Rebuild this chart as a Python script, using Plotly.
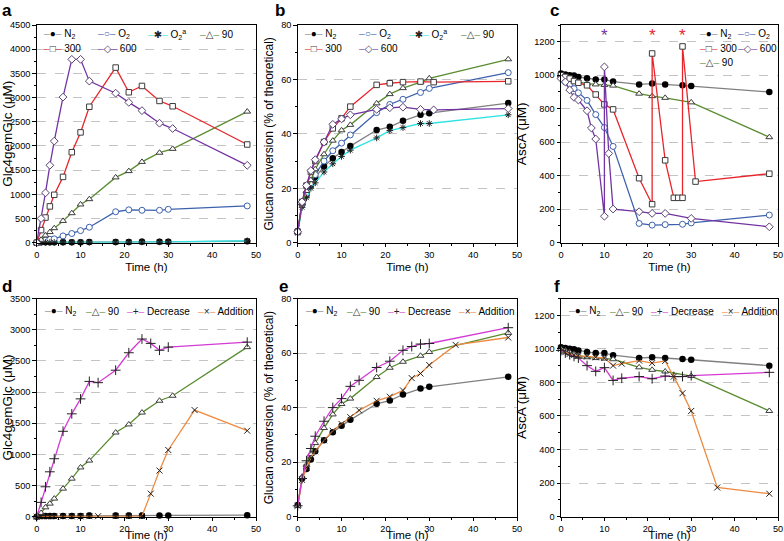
import plotly.graph_objects as go

W, H = 784, 541

# ---------------- data ----------------
# Panel a : Glc4gemGlc (uM)
a_t_N2 = [0, 1, 2, 3, 4, 6, 8, 10, 12, 18, 21, 24, 28, 30, 48]
a_N2 = [5, 10, 10, 10, 10, 10, 10, 10, 12, 15, 15, 20, 18, 18, 30]
a_N2_err = [30, 40, 40, 40, 40, 40, 40, 40, 45, 45, 45, 50, 45, 45, 35]
a_t_O2a = [0, 1, 2, 3, 4, 6, 8, 10, 12, 18, 21, 24, 28, 30, 48]
a_O2a = [0, 5, 5, 5, 5, 8, 8, 10, 10, 12, 14, 15, 16, 17, 40]
a_t_O2 = [0, 1, 2, 3, 4, 6, 8, 10, 12, 18, 21, 24, 28, 30, 48]
a_O2 = [0, 30, 50, 70, 80, 140, 190, 250, 320, 640, 680, 670, 670, 690, 760]
a_t_90 = [0, 1, 2, 3, 4, 6, 8, 10, 12, 18, 21, 24, 28, 31, 48]
a_90 = [0, 60, 150, 220, 300, 450, 610, 790, 900, 1350, 1480, 1670, 1860, 1940, 2710]
a_t_300 = [0, 1, 2, 3, 4, 6, 8, 10, 12, 18, 21, 24, 28, 31, 48]
a_300 = [0, 260, 520, 750, 990, 1360, 1870, 2280, 2810, 3620, 3110, 3240, 2930, 2820, 2030]
a_t_600 = [0, 1, 2, 3, 4, 6, 8, 10, 12, 18, 21, 24, 28, 31, 48]
a_600 = [0, 500, 1030, 1600, 2100, 3010, 3790, 3790, 3340, 3090, 2900, 2730, 2470, 2360, 1600]

# Panel b : Glucan conversion (% of theoretical)
b_t_N2 = [0, 1, 2, 3, 4, 6, 8, 10, 12, 18, 21, 24, 28, 30, 48]
b_N2 = [4.3, 14, 17.5, 21, 24, 28, 31, 33.3, 35.5, 41.4, 42.6, 44.8, 47, 47.6, 51.3]
b_t_O2 = [0, 1, 2, 3, 4, 6, 8, 10, 12, 18, 21, 24, 28, 30, 48]
b_O2 = [4, 14, 18, 22, 25, 30, 33.8, 36.6, 39.6, 47.8, 50.8, 52.7, 55.2, 56.7, 62.5]
b_t_O2a = [0, 1, 2, 3, 4, 6, 8, 10, 12, 18, 21, 24, 28, 30, 48]
b_O2a = [3.5, 13, 16.5, 20, 22, 26, 29, 31.7, 34, 38.5, 41.2, 42.3, 43.8, 43.8, 47]
b_t_90 = [0, 1, 2, 3, 4, 6, 8, 10, 12, 18, 21, 24, 28, 30, 48]
b_90 = [4, 14.5, 19, 23, 27, 32.5, 37.5, 41.3, 43.3, 51.2, 54.6, 56.8, 59, 60.4, 67.4]
b_t_300 = [0, 1, 2, 3, 4, 6, 8, 10, 12, 18, 21, 24, 28, 31, 48]
b_300 = [4, 15, 21, 26, 30, 37, 42, 45.7, 50, 58, 58.6, 59, 59.2, 59, 59.3]
b_t_600 = [0, 1, 2, 3, 4, 6, 8, 10, 12, 18, 21, 24, 28, 31, 48]
b_600 = [4, 15, 21, 26.5, 30.5, 37, 43.5, 45.5, 47, 49, 49.6, 49.8, 49, 48.8, 49.3]

# Panel c : AscA (uM)
c_t_N2 = [0, 1, 2, 3, 4, 6, 8, 10, 12, 18, 21, 24, 28, 30, 48]
c_N2 = [1010, 1005, 1000, 998, 990, 982, 975, 975, 962, 945, 950, 945, 940, 935, 900]
c_t_O2 = [0, 1, 2, 3, 4, 6, 8, 10, 12, 18, 21, 24, 28, 30, 48]
c_O2 = [990, 960, 945, 920, 895, 850, 765, 688, 575, 115, 105, 108, 110, 118, 165]
c_t_300 = [0, 1, 2, 3, 4, 6, 8, 10, 12, 18, 21, 21, 24, 26, 27, 28, 28, 31, 48]
c_300 = [1000, 990, 980, 965, 955, 940, 885, 826, 796, 385, 230, 1130, 492, 268, 268, 268, 1172, 365, 412]
c_t_600 = [0, 1, 2, 3, 4, 6, 7, 8, 10, 10, 11, 12, 18, 21, 24, 30, 48]
c_600 = [980, 960, 912, 868, 852, 788, 685, 619, 158, 1050, 533, 201, 185, 175, 175, 145, 95]
c_t_90 = [0, 1, 2, 3, 4, 6, 8, 10, 12, 18, 21, 24, 30, 48]
c_90 = [1000, 990, 980, 970, 960, 950, 945, 942, 938, 890, 875, 865, 838, 630]
c_star_t = [10, 21, 28]
c_star_y = [1240, 1240, 1240]

# Panel d : Glc4gemGlc (uM)
d_t_N2 = [0, 1, 2, 3, 4, 6, 8, 10, 12, 18, 21, 24, 28, 30, 48]
d_N2 = [0, 10, 10, 10, 10, 10, 10, 10, 15, 15, 15, 15, 20, 20, 25]
d_N2_err = [30, 40, 40, 40, 40, 40, 40, 40, 45, 45, 45, 45, 30, 30, 30]
d_t_90 = [0, 1, 2, 3, 4, 6, 8, 10, 12, 18, 21, 24, 28, 31, 48]
d_90 = [0, 60, 150, 210, 290, 450, 610, 790, 900, 1350, 1480, 1670, 1860, 1940, 2720]
d_t_dec = [0, 1, 2, 3, 4, 6, 8, 10, 12, 14, 18, 21, 24, 26, 28, 30, 48]
d_dec = [0, 230, 480, 720, 930, 1370, 1650, 1890, 2170, 2150, 2350, 2630, 2850, 2780, 2670, 2720, 2800]
d_t_add = [0, 1, 2, 3, 4, 6, 8, 10, 12, 14, 18, 21, 24, 26, 28, 30, 36, 48]
d_add = [0, 5, 5, 5, 5, 5, 5, 5, 8, 8, 10, 10, 10, 370, 740, 1070, 1710, 1380]

# Panel e : Glucan conversion (% of theoretical)
e_t_N2 = [0, 1, 2, 3, 4, 6, 8, 10, 12, 18, 21, 24, 28, 30, 48]
e_N2 = [4.3, 14, 17.5, 21, 24, 28, 31, 33.3, 35.5, 41.4, 42.6, 44.8, 47, 47.6, 51.3]
e_t_90 = [0, 1, 2, 3, 4, 6, 8, 10, 12, 18, 21, 24, 28, 30, 48]
e_90 = [4, 14.5, 19, 23, 27, 32.5, 37.5, 41.3, 43.3, 51.2, 54.6, 56.8, 59, 60.4, 67.4]
e_t_dec = [0, 1, 2, 3, 4, 6, 8, 10, 12, 14, 18, 21, 24, 26, 28, 30, 48]
e_dec = [4, 14, 20.5, 25, 29.5, 35, 40, 43.3, 47.8, 50, 54.7, 57, 61, 62.4, 63.3, 63.5, 69.3]
e_t_add = [0, 1, 2, 3, 4, 6, 8, 10, 12, 14, 18, 21, 24, 26, 28, 30, 36, 48]
e_add = [4, 13.5, 18, 21.5, 24, 28, 31.5, 34, 36.5, 39, 42.5, 44, 46.3, 50.8, 52.5, 55.6, 63, 65.7]

# Panel f : AscA (uM)
f_t_N2 = [0, 1, 2, 3, 4, 6, 8, 10, 12, 18, 21, 24, 28, 30, 48]
f_N2 = [1010, 1005, 1000, 998, 990, 982, 975, 975, 962, 945, 950, 945, 940, 935, 900]
f_t_90 = [0, 1, 2, 3, 4, 6, 8, 10, 12, 18, 21, 24, 30, 48]
f_90 = [1000, 990, 980, 970, 960, 950, 945, 942, 938, 890, 875, 865, 838, 630]
f_t_dec = [0, 1, 2, 3, 4, 6, 8, 10, 12, 14, 18, 21, 24, 26, 28, 30, 48]
f_dec = [990, 975, 965, 955, 945, 900, 866, 888, 812, 825, 835, 822, 838, 835, 835, 840, 860]
f_t_add = [0, 1, 2, 3, 4, 6, 8, 10, 12, 14, 18, 21, 24, 26, 28, 30, 36, 48]
f_add = [1000, 980, 970, 962, 958, 955, 950, 945, 900, 912, 930, 915, 928, 835, 736, 630, 174, 137]

# tick / axis text
x_title = "Time (h)"
y_titles = ["Glc4gemGlc (μM)", "Glucan conversion (% of theoretical)", "AscA (μM)",
            "Glc4gemGlc (μM)", "Glucan conversion (% of theoretical)", "AscA (μM)"]
y_title_sizes = [13.5, 12, 13.5, 13.5, 12, 13.5]
panel_letters = ["a", "b", "c", "d", "e", "f"]
y_ranges = [(0, 4500), (0, 80), (0, 1300), (0, 3500), (0, 80), (0, 1300)]
y_dticks = [500, 20, 200, 500, 20, 200]

LABELS = {'N2': 'N<sub>2</sub>', 'O2': 'O<sub>2</sub>', 'O2a': 'O<sub>2</sub><sup>a</sup>',
          '90': '90', '300': '300', '600': '600', 'dec': 'Decrease', 'add': 'Addition'}

# ---------------- styles ----------------
LINEC = {'N2': '#808080', 'O2': '#3d62ad', 'O2a': '#2fe3e3', '90': '#5a8c30',
         '300': '#e8252b', '600': '#7333a3', 'dec': '#d43ad4', 'add': '#ee8a40'}
EDGE = {'N2': '#000000', 'O2': '#3d62ad', 'O2a': '#222222', '90': '#3c3c3c',
        '300': '#3c3c3c', '600': '#5a4272', 'dec': '#222222', 'add': '#222222'}
SYMBOL = {'N2': 'circle', 'O2': 'circle', 'O2a': 'asterisk-open', '90': 'triangle-up',
          '300': 'square', '600': 'diamond', 'dec': 'cross-thin-open', 'add': 'x-thin-open'}
SIZE = {'N2': 6.5, 'O2': 6, 'O2a': 5.5, '90': 6, '300': 5.5, '600': 6, 'dec': 7, 'add': 6}
GLYPH = {'N2': '●', 'O2': '○', 'O2a': '✱', '90': '△', '300': '□', '600': '◇', 'dec': '+', 'add': '×'}

FONT = "Liberation Sans, Arial, DejaVu Sans, sans-serif"

fig = go.Figure()


def add_series(idx, t, y, key, err=None):
    sfx = '' if idx == 1 else str(idx)
    if key == 'N2':
        mk = dict(symbol='circle', size=SIZE[key], color='black', line=dict(width=0))
    elif SYMBOL[key].endswith('open'):
        mk = dict(symbol=SYMBOL[key], size=SIZE[key], color=EDGE[key], line=dict(width=1, color=EDGE[key]))
    else:
        mk = dict(symbol=SYMBOL[key], size=SIZE[key], color='white', line=dict(width=1, color=EDGE[key]))
    kw = {}
    if err is not None:
        kw['error_y'] = dict(type='data', array=err, visible=True, color='black', thickness=1, width=2)
    fig.add_trace(go.Scatter(x=t, y=y, mode='lines+markers', name=key,
                             line=dict(color=LINEC[key], width=1.3), marker=mk,
                             xaxis='x' + sfx, yaxis='y' + sfx, showlegend=False,
                             cliponaxis=False, **kw))


# panel a
add_series(1, a_t_N2, a_N2, 'N2', a_N2_err)
add_series(1, a_t_O2, a_O2, 'O2')
add_series(1, a_t_O2a, a_O2a, 'O2a')
add_series(1, a_t_90, a_90, '90')
add_series(1, a_t_300, a_300, '300')
add_series(1, a_t_600, a_600, '600')
# panel b
add_series(2, b_t_N2, b_N2, 'N2')
add_series(2, b_t_O2, b_O2, 'O2')
add_series(2, b_t_O2a, b_O2a, 'O2a')
add_series(2, b_t_90, b_90, '90')
add_series(2, b_t_300, b_300, '300')
add_series(2, b_t_600, b_600, '600')
# panel c
add_series(3, c_t_N2, c_N2, 'N2')
add_series(3, c_t_O2, c_O2, 'O2')
add_series(3, c_t_90, c_90, '90')
add_series(3, c_t_300, c_300, '300')
add_series(3, c_t_600, c_600, '600')
# panel d
add_series(4, d_t_N2, d_N2, 'N2', d_N2_err)
add_series(4, d_t_90, d_90, '90')
add_series(4, d_t_add, d_add, 'add')
add_series(4, d_t_dec, d_dec, 'dec')
# panel e
add_series(5, e_t_N2, e_N2, 'N2')
add_series(5, e_t_90, e_90, '90')
add_series(5, e_t_add, e_add, 'add')
add_series(5, e_t_dec, e_dec, 'dec')
# panel f
add_series(6, f_t_N2, f_N2, 'N2')
add_series(6, f_t_90, f_90, '90')
add_series(6, f_t_dec, f_dec, 'dec')
add_series(6, f_t_add, f_add, 'add')

# ---------------- layout ----------------
# plot-area boxes in pixels: (left, right, top, bottom)
BOX = [(36.7, 256, 25, 242.7), (297.7, 517, 25, 242.7), (561, 778, 25, 242.7),
       (36.7, 256, 298.5, 516.7), (297.7, 517, 298.5, 516.7), (561, 778, 298.5, 516.7)]

layout = dict(width=W, height=H, margin=dict(l=0, r=0, t=0, b=0),
              plot_bgcolor='white', paper_bgcolor='white',
              font=dict(family=FONT, color='black', size=10), showlegend=False)

for i, (l, r, tp, bt) in enumerate(BOX):
    n = i + 1
    sfx = '' if n == 1 else str(n)
    common = dict(showline=True, linecolor='black', linewidth=1, mirror=True,
                  ticks='outside', ticklen=3.5, tickwidth=1, tickcolor='black',
                  tickfont=dict(size=9.2, family=FONT, color='black'),
                  zeroline=False, automargin=False)
    layout['xaxis' + sfx] = dict(common, domain=[l / W, r / W], anchor='y' + sfx,
                                 range=[0, 50], tick0=0, dtick=10, showgrid=False,
                                 minor=dict(ticks='outside', ticklen=2, tickcolor='black', dtick=5, showgrid=False),
                                 title=dict(text=x_title, font=dict(size=11.5, family=FONT), standoff=3))
    lo, hi = y_ranges[i]
    layout['yaxis' + sfx] = dict(common, domain=[1 - bt / H, 1 - tp / H], anchor='x' + sfx,
                                 range=[lo, hi], tick0=0, dtick=y_dticks[i],
                                 showgrid=True, gridcolor='#c4c4c4', griddash='dash', gridwidth=0.8,
                                 minor=dict(ticks='outside', ticklen=2, tickcolor='black',
                                            dtick=y_dticks[i] / 2, showgrid=False),
                                 title=dict(text=y_titles[i], font=dict(size=y_title_sizes[i], family=FONT),
                                            standoff=4))

fig.update_layout(**layout)

annotations = []
# panel letters
LETTER_POS = [(0, 10.5), (272.5, 10.5), (548, 10.5), (0, 286.5), (277, 286.5), (551.5, 286.5)]
for letter, (lx, ly) in zip(panel_letters, LETTER_POS):
    annotations.append(dict(text='<b>' + letter + '</b>', x=lx / W, y=1 - ly / H, xref='paper', yref='paper',
                            xanchor='left', yanchor='middle', showarrow=False,
                            font=dict(size=17, family=FONT, color='black')))

# asterisks in panel c
star_colors = ['#7333a3', '#e8252b', '#e8252b']
for st, sy, sc in zip(c_star_t, c_star_y, star_colors):
    annotations.append(dict(text='*', x=st, y=sy, xref='x3', yref='y3', showarrow=False,
                            xanchor='center', yanchor='middle',
                            font=dict(size=17, family=FONT, color=sc)))


def legend_text(key):
    seg = '<span style="color:%s;font-size:8px">─</span>' % LINEC[key]
    g = '<span style="color:%s">%s</span>' % (EDGE[key], GLYPH[key])
    return seg + g + seg + ' ' + LABELS[key]


# legend rows: (key, x_px, y_px)
LEG = []
for off in (0, 261):
    LEG += [('N2', 41 + off, 34), ('O2', 95 + off, 34), ('O2a', 145 + off, 34), ('90', 197 + off, 34),
            ('300', 41 + off, 48.5), ('600', 95 + off, 48.5)]
LEG += [('N2', 697, 34), ('O2', 735, 34), ('300', 697, 48.5), ('600', 735, 48.5), ('90', 697, 62.5)]
for base in (36.7, 297.7, 561):
    LEG += [('N2', base + 5, 311), ('90', base + 46, 311), ('dec', base + 87, 311), ('add', base + 158, 311)]

for key, lx, ly in LEG:
    annotations.append(dict(text=legend_text(key), x=lx / W, y=1 - ly / H, xref='paper', yref='paper',
                            xanchor='left', yanchor='middle', showarrow=False,
                            font=dict(size=10, family=FONT, color='black')))

fig.update_layout(annotations=annotations)
fig.write_html("out.html", config={'displayModeBar': False},
               post_script="document.body.style.margin='0px';document.body.style.padding='0px';"
                           "document.body.style.overflow='hidden';")
